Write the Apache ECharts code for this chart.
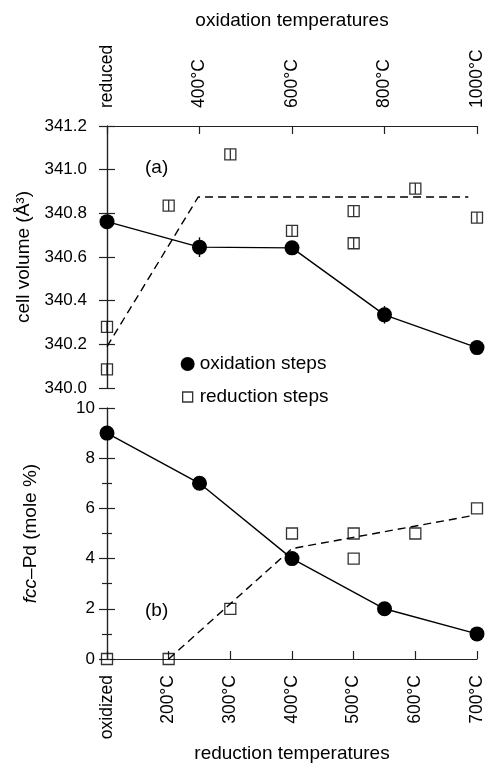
<!DOCTYPE html>
<html>
<head>
<meta charset="utf-8">
<script src="https://cdn.jsdelivr.net/npm/echarts@6/dist/echarts.min.js"></script>
<style>
  html, body { margin: 0; padding: 0; background: #fff; }
  #chart { width: 486px; height: 764px; }
</style>
</head>
<body>
<div id="chart"></div>
<script>
// axis categories
const oxLabels = ['reduced', '400°C', '600°C', '800°C', '1000°C'];
const redLabels = ['oxidized', '200°C', '300°C', '400°C', '500°C', '600°C', '700°C'];

// (a) cell volume, oxidation steps (top axis index)
const oxIdx = [0, 1, 2, 3, 4];
const oxVolA = [340.762, 340.645, 340.642, 340.335, 340.185];
const oxErrA = [0, 0.045, 0.03, 0.04, 0];
// (a) cell volume, reduction steps (bottom axis index)
const redIdxA = [0, 0, 1, 2, 3, 4, 4, 5, 6];
const redVolA = [340.28, 340.085, 340.835, 341.07, 340.72, 340.81, 340.663, 340.913, 340.78];
// (a) dashed guide
const trendAx = [0, 1.48, 5.86];
const trendAy = [340.19, 340.875, 340.875];

// (b) fcc-Pd mole %
const oxPdB = [9, 7, 4, 2, 1];
const redIdxB = [0, 1, 2, 3, 4, 4, 5, 6];
const redPdB = [0, 0, 2, 5, 5, 4, 5, 6];
const trendBx = [1, 3, 5.9];
const trendBy = [0, 4.4, 5.7];

const FONT = "'Liberation Sans', Arial, sans-serif";
const INK = '#000';
const AXIS = '#222';

const pairs = (xs, ys) => xs.map((x, i) => [x, ys[i]]);

const chart = echarts.init(document.getElementById('chart'));

const axisLine = { show: true, lineStyle: { color: AXIS, width: 1.2 } };
const tickIn = { show: true, inside: true, length: 8, lineStyle: { color: AXIS, width: 1.2 } };

chart.setOption({
  animation: false,
  backgroundColor: '#fff',
  textStyle: { fontFamily: FONT },
  grid: [
    { left: 107, right: 5, top: 126, height: 262 },
    { left: 107, right: 5, top: 408, height: 253 }
  ],
  legend: {
    orient: 'vertical',
    left: 175,
    top: 349,
    itemWidth: 14,
    itemHeight: 14,
    itemGap: 13,
    textStyle: { fontSize: 19, lineHeight: 20, color: INK, fontFamily: FONT },
    data: [
      { name: 'oxidation steps', icon: 'circle', itemStyle: { color: INK } },
      { name: 'reduction steps', icon: 'path://M0,0M14,14M2,2h10v10h-10z',
        itemStyle: { color: '#fff', borderColor: INK, borderWidth: 1.3 } }
    ]
  },
  xAxis: [
    {
      gridIndex: 0, type: 'value', position: 'top', min: 0, max: 4, interval: 1,
      axisLine, axisTick: tickIn, splitLine: { show: false },
      axisLabel: { rotate: -90, margin: 18, fontSize: 17.5, color: INK, fontFamily: FONT,
        showMinLabel: true, showMaxLabel: true, formatter: v => oxLabels[v] },
      name: 'oxidation temperatures', nameLocation: 'middle', nameGap: 96,
      nameTextStyle: { fontSize: 19, color: INK, fontFamily: FONT }
    },
    { gridIndex: 0, type: 'value', min: 0, max: 6, show: false },
    {
      gridIndex: 1, type: 'value', position: 'bottom', min: 0, max: 6, interval: 1,
      axisLine, axisTick: tickIn, splitLine: { show: false },
      axisLabel: { rotate: 90, margin: 16, fontSize: 17.5, color: INK, fontFamily: FONT,
        showMinLabel: true, showMaxLabel: true, formatter: v => redLabels[v] },
      name: 'reduction temperatures', nameLocation: 'middle', nameGap: 85,
      nameTextStyle: { fontSize: 19, color: INK, fontFamily: FONT }
    },
    { gridIndex: 1, type: 'value', position: 'top', min: 0, max: 4, show: false }
  ],
  yAxis: [
    {
      gridIndex: 0, type: 'value', min: 340.0, max: 341.2, interval: 0.2,
      axisLine, axisTick: tickIn, splitLine: { show: false },
      axisLabel: { margin: 20, fontSize: 17, color: INK, fontFamily: FONT, formatter: v => v.toFixed(1) },
      name: 'cell volume (Å³)', nameLocation: 'middle', nameGap: 70,
      nameTextStyle: { fontSize: 19, color: INK, fontFamily: FONT }
    },
    {
      gridIndex: 0, type: 'value', position: 'right', min: 340.0, max: 341.2, interval: 0.2,
      axisLine, axisTick: tickIn, splitLine: { show: false }, axisLabel: { show: false }
    },
    {
      gridIndex: 1, type: 'value', min: 0, max: 10, interval: 2,
      axisLine, axisTick: tickIn, splitLine: { show: false },
      minorTick: { show: true, splitNumber: 2, length: 5, lineStyle: { color: AXIS, width: 1.2 } },
      axisLabel: { margin: 12, fontSize: 17, color: INK, fontFamily: FONT },
      name: '{i|fcc}–Pd (mole %)', nameLocation: 'middle', nameGap: 67,
      nameTextStyle: { fontSize: 19, color: INK, fontFamily: FONT,
        rich: { i: { fontStyle: 'italic', fontSize: 19, color: INK, fontFamily: FONT } } }
    },
    {
      gridIndex: 1, type: 'value', position: 'right', min: 0, max: 10, interval: 2,
      axisLine, axisTick: tickIn, splitLine: { show: false },
      minorTick: { show: true, splitNumber: 2, length: 5, lineStyle: { color: AXIS, width: 1.2 } },
      axisLabel: { show: false }
    }
  ],
  graphic: [
    { type: 'text', left: 145, top: 158, style: { text: '(a)', fontSize: 19, fontFamily: FONT, fill: INK } },
    { type: 'text', left: 145, top: 601, style: { text: '(b)', fontSize: 19, fontFamily: FONT, fill: INK } }
  ],
  series: [
    {
      name: 'trend a', type: 'line', xAxisIndex: 1, yAxisIndex: 0,
      data: pairs(trendAx, trendAy), symbol: 'none', silent: true,
      lineStyle: { color: INK, width: 1.4, type: [8, 5] }, z: 2
    },
    {
      name: 'oxidation steps', type: 'line', xAxisIndex: 0, yAxisIndex: 0,
      data: pairs(oxIdx, oxVolA), symbol: 'circle', symbolSize: 15,
      itemStyle: { color: INK }, lineStyle: { color: INK, width: 1.4 }, z: 4
    },
    {
      name: 'error a', type: 'custom', xAxisIndex: 0, yAxisIndex: 0, silent: true, z: 5,
      data: oxIdx.map((x, i) => [x, oxVolA[i] - oxErrA[i], oxVolA[i] + oxErrA[i]]),
      renderItem: (params, api) => {
        const lo = api.coord([api.value(0), api.value(1)]);
        const hi = api.coord([api.value(0), api.value(2)]);
        return { type: 'line', shape: { x1: lo[0], y1: lo[1], x2: hi[0], y2: hi[1] },
          style: { stroke: INK, lineWidth: 1.4 } };
      }
    },
    {
      name: 'reduction steps', type: 'scatter', xAxisIndex: 1, yAxisIndex: 0,
      data: pairs(redIdxA, redVolA), symbol: 'path://M0,0H10V10H0Z M5,0V10', symbolSize: 11,
      itemStyle: { color: 'none', borderColor: INK, borderWidth: 1.3 }, z: 3
    },
    {
      name: 'trend b', type: 'line', xAxisIndex: 2, yAxisIndex: 2,
      data: pairs(trendBx, trendBy), symbol: 'none', silent: true,
      lineStyle: { color: INK, width: 1.4, type: [8, 5] }, z: 2
    },
    {
      name: 'oxidation steps', type: 'line', xAxisIndex: 3, yAxisIndex: 2,
      data: pairs(oxIdx, oxPdB), symbol: 'circle', symbolSize: 15,
      itemStyle: { color: INK }, lineStyle: { color: INK, width: 1.4 }, z: 4
    },
    {
      name: 'reduction steps', type: 'scatter', xAxisIndex: 2, yAxisIndex: 2,
      data: pairs(redIdxB, redPdB), symbol: 'rect', symbolSize: 11,
      itemStyle: { color: 'none', borderColor: INK, borderWidth: 1.3 }, z: 3
    }
  ]
});
</script>
</body>
</html>
